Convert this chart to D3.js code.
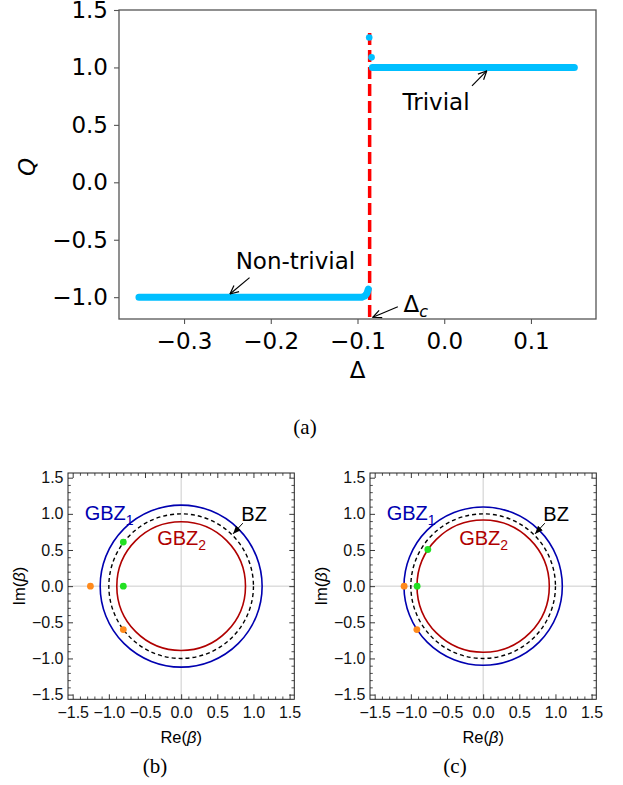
<!DOCTYPE html>
<html>
<head>
<meta charset="utf-8">
<script src="https://cdn.jsdelivr.net/npm/d3@7"></script>
<style>
  body { margin: 0; background: #fff; }
</style>
</head>
<body>
<script>
    // ---- panel (a): Q versus Delta ----
    let nonTrivialDelta = [-0.352, -0.25, -0.15, -0.095, -0.0915, -0.089, -0.0875];
    let nonTrivialQ     = [-1.0, -1.0, -1.0, -1.0, -0.99, -0.965, -0.93];
    let trivialDelta = [-0.0828, 0.0, 0.10, 0.15];
    let trivialQ     = [1.0, 1.0, 1.0, 1.0];
    let jumpDelta = [-0.0865, -0.0838];
    let jumpQ     = [1.26, 1.088];
    let deltaC = -0.086;
    let xTicksA = [-0.3, -0.2, -0.1, 0.0, 0.1];
    let yTicksA = [-1.0, -0.5, 0.0, 0.5, 1.0, 1.5];

    // ---- panels (b), (c): beta plane ----
    let panelNames = ["(b)", "(c)"];
    let gbz1Radius = [1.12, 1.095];
    let gbz2Radius = [0.89, 0.915];
    let bzRadius = [1.0, 1.0];
    let greenPoints = [
        [[-0.80, 0.61], [-0.80, 0.0]],
        [[-0.765, 0.507], [-0.913, 0.0]]
    ];
    let orangePoints = [
        [[-1.255, 0.0], [-0.80, -0.60]],
        [[-1.093, 0.0], [-0.917, -0.60]]
    ];
    let betaTicks = [-1.5, -1.0, -0.5, 0.0, 0.5, 1.0, 1.5];

    let svg = d3.select("body").append("svg")
        .attr("width", 623)
        .attr("height", 785);

    // ================= panel (a) =================
    let fontA = "'DejaVu Sans', sans-serif";
    let x = d3.scaleLinear().domain([-0.375, 0.175]).range([119, 596]);
    let y = d3.scaleLinear().domain([-1.19, 1.5]).range([319, 10]);
    let fmt = d3.format(".1f");

    let ga = svg.append("g");

    let xAxis = ga.append("g")
        .attr("transform", "translate(0,319)")
        .call(d3.axisBottom(x).tickValues(xTicksA).tickFormat(fmt).tickSize(5).tickPadding(9));
    let yAxis = ga.append("g")
        .attr("transform", "translate(119,0)")
        .call(d3.axisLeft(y).tickValues(yTicksA).tickFormat(fmt).tickSize(5).tickPadding(6));
    [xAxis, yAxis].forEach(a => {
        a.select(".domain").remove();
        a.selectAll("line").attr("stroke", "#555").attr("stroke-width", 1.1);
        a.selectAll("text").attr("font-family", fontA).attr("font-size", 23).attr("fill", "#000");
    });

    ga.append("rect")
        .attr("x", 119).attr("y", 10)
        .attr("width", 596 - 119).attr("height", 319 - 10)
        .attr("fill", "none").attr("stroke", "#555").attr("stroke-width", 1.3);

    // critical line (under the data)
    ga.append("line")
        .attr("x1", x(deltaC)).attr("x2", x(deltaC))
        .attr("y1", y(1.30)).attr("y2", y(-1.19))
        .attr("stroke", "#ff0000").attr("stroke-width", 3.5)
        .attr("stroke-dasharray", "12,5");

    // data
    let line = d3.line().x(d => x(d[0])).y(d => y(d[1]));
    let cyan = "#00bfff";
    ga.append("path")
        .attr("d", line(d3.zip(nonTrivialDelta, nonTrivialQ)))
        .attr("fill", "none").attr("stroke", cyan).attr("stroke-width", 7)
        .attr("stroke-linecap", "round").attr("stroke-linejoin", "round");
    ga.append("path")
        .attr("d", line(d3.zip(trivialDelta, trivialQ)))
        .attr("fill", "none").attr("stroke", cyan).attr("stroke-width", 7)
        .attr("stroke-linecap", "round").attr("stroke-linejoin", "round");
    ga.selectAll("circle.jump")
        .data(d3.zip(jumpDelta, jumpQ))
        .enter().append("circle")
        .attr("class", "jump")
        .attr("cx", d => x(d[0])).attr("cy", d => y(d[1]))
        .attr("r", 3.3).attr("fill", cyan);

    // arrow heads
    let defs = svg.append("defs");
    defs.append("marker")
        .attr("id", "open")
        .attr("viewBox", "0 0 10 10")
        .attr("refX", 9.5).attr("refY", 5)
        .attr("markerWidth", 10).attr("markerHeight", 10)
        .attr("markerUnits", "userSpaceOnUse")
        .attr("orient", "auto")
        .append("path")
        .attr("d", "M1,1 L9.5,5 L1,9")
        .attr("fill", "none").attr("stroke", "#000").attr("stroke-width", 1.2);
    defs.append("marker")
        .attr("id", "filled")
        .attr("viewBox", "0 0 10 10")
        .attr("refX", 10).attr("refY", 5)
        .attr("markerWidth", 8).attr("markerHeight", 8)
        .attr("markerUnits", "userSpaceOnUse")
        .attr("orient", "auto")
        .append("path")
        .attr("d", "M0,1 L10,5 L0,9 Z")
        .attr("fill", "#000");

    let annotA = [
        { text: "Trivial", at: [-0.048, 0.63], from: [0.032, 0.84], to: [0.049, 0.97] },
        { text: "Non-trivial", at: [-0.2405, -0.754], from: [-0.2245, -0.83], to: [-0.247, -0.972] },
        { text: "Δ", sub: "c", at: [-0.047, -1.126], from: [-0.0535, -1.083], to: [-0.0823, -1.175] }
    ];
    annotA.forEach(a => {
        ga.append("line")
            .attr("x1", x(a.from[0])).attr("y1", y(a.from[1]))
            .attr("x2", x(a.to[0])).attr("y2", y(a.to[1]))
            .attr("stroke", "#000").attr("stroke-width", 1.2)
            .attr("marker-end", "url(#open)");
        let t = ga.append("text")
            .attr("x", x(a.at[0])).attr("y", y(a.at[1]))
            .attr("font-family", fontA).attr("font-size", 23)
            .text(a.text);
        if (a.sub) {
            t.append("tspan").attr("dy", 5).attr("font-size", 16)
                .attr("font-style", "italic").text(a.sub);
        }
    });

    ga.append("text")
        .attr("transform", "translate(35,167) rotate(-90)")
        .attr("text-anchor", "middle")
        .attr("font-family", fontA).attr("font-size", 23).attr("font-style", "italic")
        .text("Q");
    ga.append("text")
        .attr("x", 357.5).attr("y", 378)
        .attr("text-anchor", "middle")
        .attr("font-family", fontA).attr("font-size", 23)
        .text("Δ");

    let fontSerif = "'Liberation Serif', 'DejaVu Serif', serif";
    svg.append("text")
        .attr("x", 305).attr("y", 434)
        .attr("text-anchor", "middle")
        .attr("font-family", fontSerif).attr("font-size", 21)
        .text("(a)");

    // ================= panels (b), (c) =================
    let fontB = "'Liberation Sans', Arial, sans-serif";
    let blue = "#0000b0";
    let red = "#b00000";
    let minorTicks = d3.range(-15, 16).map(i => i / 10).filter(v => Math.abs(v * 2 - Math.round(v * 2)) > 1e-6);
    let frameLeft = [68, 370];
    let captionX = [155, 455];
    let imLabelX = [25, 327];

    panelNames.forEach((name, i) => {
        let g = svg.append("g");
        let bx = d3.scaleLinear().domain([-1.565, 1.565]).range([frameLeft[i], frameLeft[i] + 226.3]);
        let by = d3.scaleLinear().domain([-1.565, 1.565]).range([699.3, 473]);

        // grid lines through origin
        g.append("line").attr("x1", bx(0)).attr("x2", bx(0)).attr("y1", by(-1.565)).attr("y2", by(1.565))
            .attr("stroke", "#cccccc").attr("stroke-width", 1);
        g.append("line").attr("x1", bx(-1.565)).attr("x2", bx(1.565)).attr("y1", by(0)).attr("y2", by(0))
            .attr("stroke", "#cccccc").attr("stroke-width", 1);

        // axes: inward major + minor ticks on all four sides
        let sides = [
            { ax: d3.axisBottom(bx), tr: `translate(0,${by(-1.565)})`, labels: true, pad: 7 },
            { ax: d3.axisLeft(by), tr: `translate(${bx(-1.565)},0)`, labels: true, pad: 4.5 },
            { ax: d3.axisTop(bx), tr: `translate(0,${by(1.565)})`, labels: false, pad: 3 },
            { ax: d3.axisRight(by), tr: `translate(${bx(1.565)},0)`, labels: false, pad: 3 }
        ];
        sides.forEach(s => {
            let major = g.append("g").attr("transform", s.tr)
                .call(s.ax.tickValues(betaTicks).tickSize(-5).tickPadding(s.pad)
                    .tickFormat(s.labels ? fmt : ""));
            major.select(".domain").remove();
            major.selectAll("line").attr("stroke", "#222").attr("stroke-width", 0.9);
            major.selectAll("text").attr("font-family", fontB).attr("font-size", 16).attr("fill", "#111");
            let minor = g.append("g").attr("transform", s.tr)
                .call(s.ax.tickValues(minorTicks).tickSize(-2.8).tickFormat(""));
            minor.select(".domain").remove();
            minor.selectAll("line").attr("stroke", "#222").attr("stroke-width", 0.8);
        });

        g.append("rect")
            .attr("x", bx(-1.565)).attr("y", by(1.565))
            .attr("width", bx(1.565) - bx(-1.565)).attr("height", by(-1.565) - by(1.565))
            .attr("fill", "none").attr("stroke", "#222").attr("stroke-width", 1);

        let unit = bx(1) - bx(0);
        g.append("circle").attr("cx", bx(0)).attr("cy", by(0)).attr("r", gbz1Radius[i] * unit)
            .attr("fill", "none").attr("stroke", blue).attr("stroke-width", 1.6);
        g.append("circle").attr("cx", bx(0)).attr("cy", by(0)).attr("r", gbz2Radius[i] * unit)
            .attr("fill", "none").attr("stroke", red).attr("stroke-width", 1.6);
        g.append("circle").attr("cx", bx(0)).attr("cy", by(0)).attr("r", bzRadius[i] * unit)
            .attr("fill", "none").attr("stroke", "#000").attr("stroke-width", 1.4)
            .attr("stroke-dasharray", "4,3");

        g.selectAll("circle.orange").data(orangePoints[i]).enter().append("circle")
            .attr("class", "orange")
            .attr("cx", d => bx(d[0])).attr("cy", d => by(d[1])).attr("r", 3.4)
            .attr("fill", "#ff8a1c");
        g.selectAll("circle.green").data(greenPoints[i]).enter().append("circle")
            .attr("class", "green")
            .attr("cx", d => bx(d[0])).attr("cy", d => by(d[1])).attr("r", 3.4)
            .attr("fill", "#22e022");

        // labels
        let lab = (xv, yv, txt, sub, col) => {
            let t = g.append("text").attr("x", bx(xv)).attr("y", by(yv))
                .attr("font-family", fontB).attr("font-size", 20).attr("fill", col).text(txt);
            if (sub) t.append("tspan").attr("dy", 5).attr("font-size", 14).text(sub);
        };
        lab(-1.335, 0.92, "GBZ", "1", blue);
        lab(-0.332, 0.571, "GBZ", "2", red);
        lab(0.832, 0.907, "BZ", null, "#000");
        g.append("line")
            .attr("x1", bx(0.853)).attr("y1", by(0.871))
            .attr("x2", bx(0.717)).attr("y2", by(0.723))
            .attr("stroke", "#000").attr("stroke-width", 1)
            .attr("marker-end", "url(#filled)");

        g.append("text")
            .attr("x", bx(0)).attr("y", 742.7)
            .attr("text-anchor", "middle")
            .attr("font-family", fontB).attr("font-size", 16.5)
            .html("Re(<tspan font-style='italic'>β</tspan>)");
        g.append("text")
            .attr("transform", `translate(${imLabelX[i]},${by(0)}) rotate(-90)`)
            .attr("text-anchor", "middle")
            .attr("font-family", fontB).attr("font-size", 16.5)
            .html("Im(<tspan font-style='italic'>β</tspan>)");

        svg.append("text")
            .attr("x", captionX[i]).attr("y", 773)
            .attr("text-anchor", "middle")
            .attr("font-family", fontSerif).attr("font-size", 21)
            .text(name);
    });
</script>
</body>
</html>
